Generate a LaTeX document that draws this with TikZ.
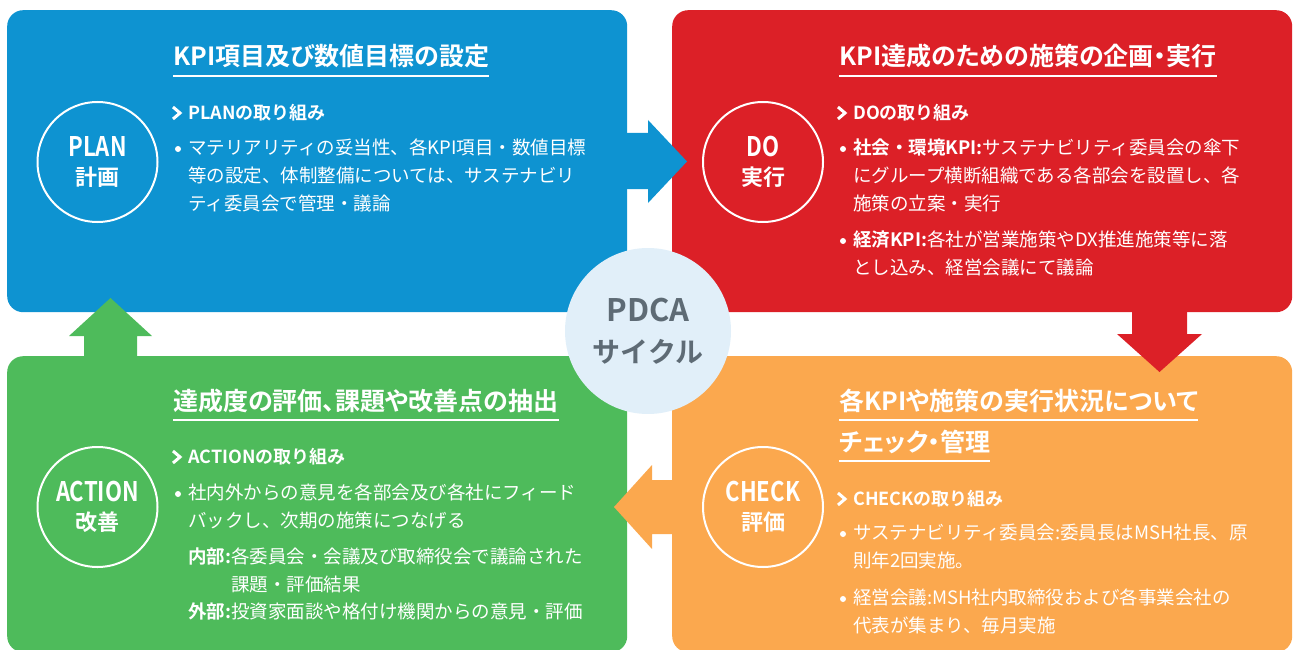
\documentclass[tikz,border=0pt]{standalone}
\usepackage{fontspec}
\setmainfont{Noto Sans CJK JP}[BoldFont={Noto Sans CJK JP Bold}]
\newfontfamily\condfont{Noto Sans CJK JP Bold}[FakeStretch=0.82]
\newfontfamily\titlefont{Noto Sans CJK JP Bold}[RawFeature=+palt]

\definecolor{plancol}{RGB}{14,147,209}
\definecolor{docol}{RGB}{220,32,39}
\definecolor{checkcol}{RGB}{251,168,78}
\definecolor{actcol}{RGB}{78,187,91}
\definecolor{hubcol}{RGB}{225,239,249}
\definecolor{hubtext}{RGB}{94,107,117}

\tikzstyle{panel} = [anchor=north west, rounded corners=16pt, minimum width=620pt, inner sep=0pt]
\tikzstyle{stage} = [circle, draw=white, line width=2pt, minimum size=120pt, inner sep=0pt, text=white, align=center, font=\condfont\fontsize{27}{28.5}\selectfont]
\tikzstyle{ttl} = [anchor=base west, inner xsep=0pt, inner ysep=10pt, text depth=0pt, text=white, font=\titlefont\fontsize{25}{25}\selectfont]
\tikzstyle{uline} = [white, line width=2pt]
\tikzstyle{sub} = [anchor=base west, inner sep=0pt, text=white, font=\bfseries\fontsize{18}{18}\selectfont]
\tikzstyle{chev} = [white, line width=3pt, line join=miter]
\tikzstyle{body} = [anchor=base west, inner sep=0pt, text=white, text width=430pt, align=left, font=\fontsize{18.5}{28}\selectfont]
\tikzstyle{dot} = [circle, fill=white, inner sep=0pt, minimum size=6pt]
\tikzstyle{hub} = [circle, fill=hubcol, minimum size=166pt, inner sep=0pt, align=center, text=hubtext, font=\bfseries\fontsize{31}{40.6}\selectfont]

\newcommand{\stagelabel}[2]{#1\\{\rmfamily\bfseries\fontsize{22}{22}\selectfont #2}}
\newcommand{\chevron}[1]{\draw[chev] ([xshift=-15pt,yshift=12.5pt]#1.base west) -- ([xshift=-8pt,yshift=6.5pt]#1.base west) -- ([xshift=-15pt,yshift=0.5pt]#1.base west);}

\begin{document}
\begin{tikzpicture}[x=1pt, y=-1pt]
    \useasboundingbox (0,0) rectangle (1295,650);
    \clip (0,0) rectangle (1295,650);

    % four panels
    \node [panel, fill=plancol, minimum height=302pt] (plan_box) at (7,10) {};
    \node [panel, fill=docol, minimum height=302pt] (do_box) at (672,10) {};
    \node [panel, fill=actcol, minimum height=296pt] (act_box) at (7,356) {};
    \node [panel, fill=checkcol, minimum height=296pt] (chk_box) at (672,356) {};

    % block arrows
    \fill [plancol] (622,133) -- (648,133) -- (648,120) -- (687,161.5) -- (648,203) -- (648,189) -- (622,189) -- cycle;
    \fill [docol] (1132,306) -- (1132,334) -- (1117,334) -- (1159.5,372) -- (1202,334) -- (1187,334) -- (1187,306) -- cycle;
    \fill [checkcol] (678,480) -- (652,480) -- (652,465) -- (614,507) -- (652,549) -- (652,534) -- (678,534) -- cycle;
    \fill [actcol] (84,362) -- (84,336) -- (69,336) -- (110.5,298) -- (152,336) -- (137,336) -- (137,362) -- cycle;

    % PLAN
    \node [stage] (plan) at (97.5,162) {\stagelabel{PLAN}{計画}};
    \node [ttl] (plan_ttl) at (173,66) {KPI項目及び数値目標の設定};
    \draw [uline] (plan_ttl.south west) -- (plan_ttl.south east);
    \node [sub] (plan_sub) at (188,119.5) {PLANの取り組み};
    \chevron{plan_sub}
    \node [body] (plan_b1) at (188,154.5) {マテリアリティの妥当性、各KPI項目・数値目標\\等の設定、体制整備については、サステナビリ\\ティ委員会で管理・議論};
    \node [dot] (plan_d1) at ([xshift=-10pt,yshift=5.5pt]plan_b1.base west) {};

    % DO
    \node [stage] (do) at (763,162) {\stagelabel{DO}{実行}};
    \node [ttl] (do_ttl) at (839,66) {KPI達成のための施策の企画・実行};
    \draw [uline] (do_ttl.south west) -- (do_ttl.south east);
    \node [sub] (do_sub) at (853,119.5) {DOの取り組み};
    \chevron{do_sub}
    \node [body] (do_b1) at (853,154.5) {{\bfseries 社会・環境KPI:}サステナビリティ委員会の傘下\\にグループ横断組織である各部会を設置し、各\\施策の立案・実行};
    \node [dot] (do_d1) at ([xshift=-10pt,yshift=5.5pt]do_b1.base west) {};
    \node [body] (do_b2) at (853,246.5) {{\bfseries 経済KPI:}各社が営業施策やDX推進施策等に落\\とし込み、経営会議にて議論};
    \node [dot] (do_d2) at ([xshift=-10pt,yshift=5.5pt]do_b2.base west) {};

    % ACTION
    \node [stage] (act) at (97.5,507) {\stagelabel{ACTION}{改善}};
    \node [ttl] (act_ttl) at (173,410) {達成度の評価、課題や改善点の抽出};
    \draw [uline] (act_ttl.south west) -- (act_ttl.south east);
    \node [sub] (act_sub) at (188,463.5) {ACTIONの取り組み};
    \chevron{act_sub}
    \node [body] (act_b1) at (188,499.5) {社内外からの意見を各部会及び各社にフィード\\バックし、次期の施策につなげる};
    \node [dot] (act_d1) at ([xshift=-10pt,yshift=5.5pt]act_b1.base west) {};
    \node [body] (act_in) at (188,563.5) {{\bfseries 内部:}各委員会・会議及び取締役会で議論された\\\phantom{\bfseries 内部:}課題・評価結果};
    \node [body] (act_out) at (188,618.5) {{\bfseries 外部:}投資家面談や格付け機関からの意見・評価};

    % CHECK
    \node [stage] (chk) at (763,507) {\stagelabel{CHECK}{評価}};
    \node [ttl] (chk_ttl) at (839,410) {各KPIや施策の実行状況について};
    \draw [uline] (chk_ttl.south west) -- (chk_ttl.south east);
    \node [ttl] (chk_ttl2) at (839,451) {チェック・管理};
    \draw [uline] (chk_ttl2.south west) -- (chk_ttl2.south east);
    \node [sub] (chk_sub) at (853,505.5) {CHECKの取り組み};
    \chevron{chk_sub}
    \node [body] (chk_b1) at (853,539.5) {サステナビリティ委員会:委員長はMSH社長、原\\則年2回実施。};
    \node [dot] (chk_d1) at ([xshift=-10pt,yshift=5.5pt]chk_b1.base west) {};
    \node [body] (chk_b2) at (853,604.5) {経営会議:MSH社内取締役および各事業会社の\\代表が集まり、毎月実施};
    \node [dot] (chk_d2) at ([xshift=-10pt,yshift=5.5pt]chk_b2.base west) {};

    % centre
    \node [hub] (pdca) at (648,331) {PDCA\\{\fontsize{28}{28}\selectfont サイクル}};
\end{tikzpicture}
\end{document}
